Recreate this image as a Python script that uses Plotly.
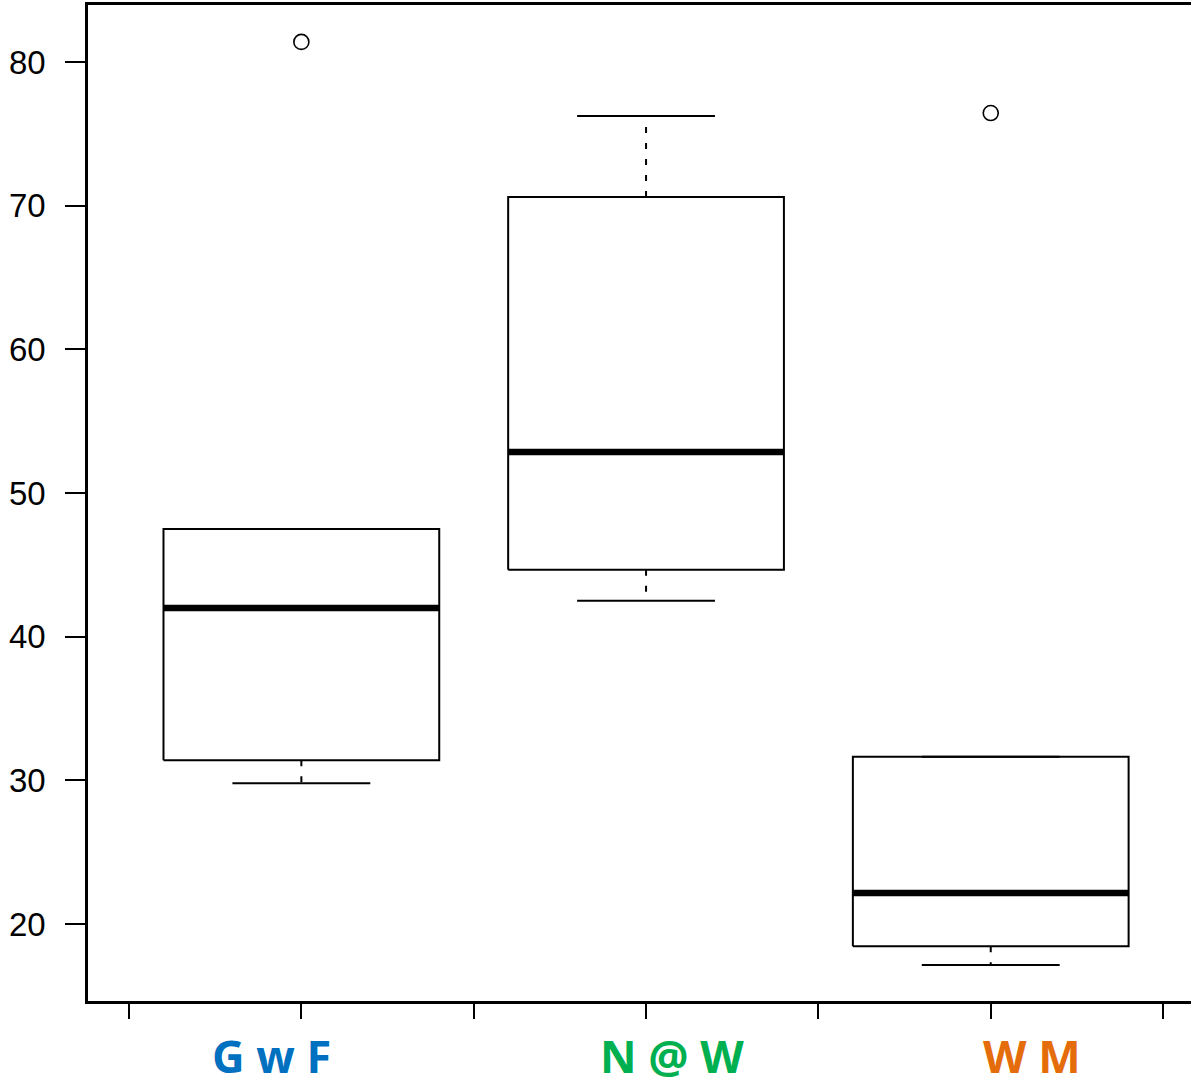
import plotly.graph_objects as go

categories = ["G w F", "N @ W", "W M"]
label_colors = ["#0070C0", "#00B050", "#E46C0A"]
positions = [1, 2, 3]
lower_whisker = [29.8, 42.5, 17.15]
q1 = [31.4, 44.65, 18.45]
median = [42.0, 52.85, 22.15]
q3 = [47.5, 70.6, 31.65]
upper_whisker = [47.5, 76.25, 31.65]
outlier_x = [1, 3]
outlier_y = [81.4, 76.45]
y_ticks = [20, 30, 40, 50, 60, 70, 80]
x_ticks = [0.5, 1, 1.5, 2, 2.5, 3, 3.5]
label_shift = [-0.087, 0.075, 0.12]

BOX_HALF = 0.4
CAP_HALF = 0.2

fig = go.Figure()

for i, c in enumerate(positions):
    # whiskers (dashed)
    fig.add_trace(go.Scatter(
        x=[c, c, None, c, c],
        y=[q3[i], upper_whisker[i], None, q1[i], lower_whisker[i]],
        mode="lines", line=dict(color="black", width=2, dash="6px,10px"),
        hoverinfo="skip", showlegend=False))
    # caps
    fig.add_trace(go.Scatter(
        x=[c - CAP_HALF, c + CAP_HALF, None, c - CAP_HALF, c + CAP_HALF],
        y=[upper_whisker[i], upper_whisker[i], None, lower_whisker[i], lower_whisker[i]],
        mode="lines", line=dict(color="black", width=2),
        hoverinfo="skip", showlegend=False))
    # box
    fig.add_trace(go.Scatter(
        x=[c - BOX_HALF, c + BOX_HALF, c + BOX_HALF, c - BOX_HALF, c - BOX_HALF],
        y=[q1[i], q1[i], q3[i], q3[i], q1[i]],
        mode="lines", line=dict(color="black", width=2),
        hoverinfo="skip", showlegend=False))
    # median
    fig.add_trace(go.Scatter(
        x=[c - BOX_HALF, c + BOX_HALF], y=[median[i], median[i]],
        mode="lines", line=dict(color="black", width=6.5),
        hoverinfo="skip", showlegend=False))

fig.add_trace(go.Scatter(
    x=outlier_x, y=outlier_y, mode="markers",
    marker=dict(symbol="circle-open", size=15, color="black", line=dict(width=1.6)),
    showlegend=False))

for i, c in enumerate(positions):
    fig.add_annotation(
        x=c + label_shift[i], y=0, xref="x", yref="paper", yanchor="middle",
        yshift=-54, text="<b>%s</b>" % categories[i], showarrow=False,
        font=dict(family="Open Sans", size=45, color=label_colors[i]))

fig.update_layout(
    width=1191, height=1084,
    margin=dict(l=88, r=0, t=5, b=83),
    paper_bgcolor="white", plot_bgcolor="white",
    xaxis=dict(range=[0.381, 3.581], tickvals=x_ticks, ticktext=[""] * len(x_ticks),
               ticks="outside", ticklen=15, tickwidth=2, tickcolor="black",
               showline=True, linecolor="black", linewidth=2.5, mirror=True,
               showgrid=False, zeroline=False),
    yaxis=dict(range=[14.64, 83.97], tickvals=y_ticks,
               ticks="outside", ticklen=20, tickwidth=2, tickcolor="black",
               ticklabelstandoff=13,
               showline=True, linecolor="black", linewidth=2.5,
               showgrid=False, zeroline=False,
               tickfont=dict(family="Liberation Sans", size=33, color="black")),
)

fig.write_html("out.html", config={"displayModeBar": False},
               post_script="document.body.style.margin='0';document.body.style.overflow='hidden';")
